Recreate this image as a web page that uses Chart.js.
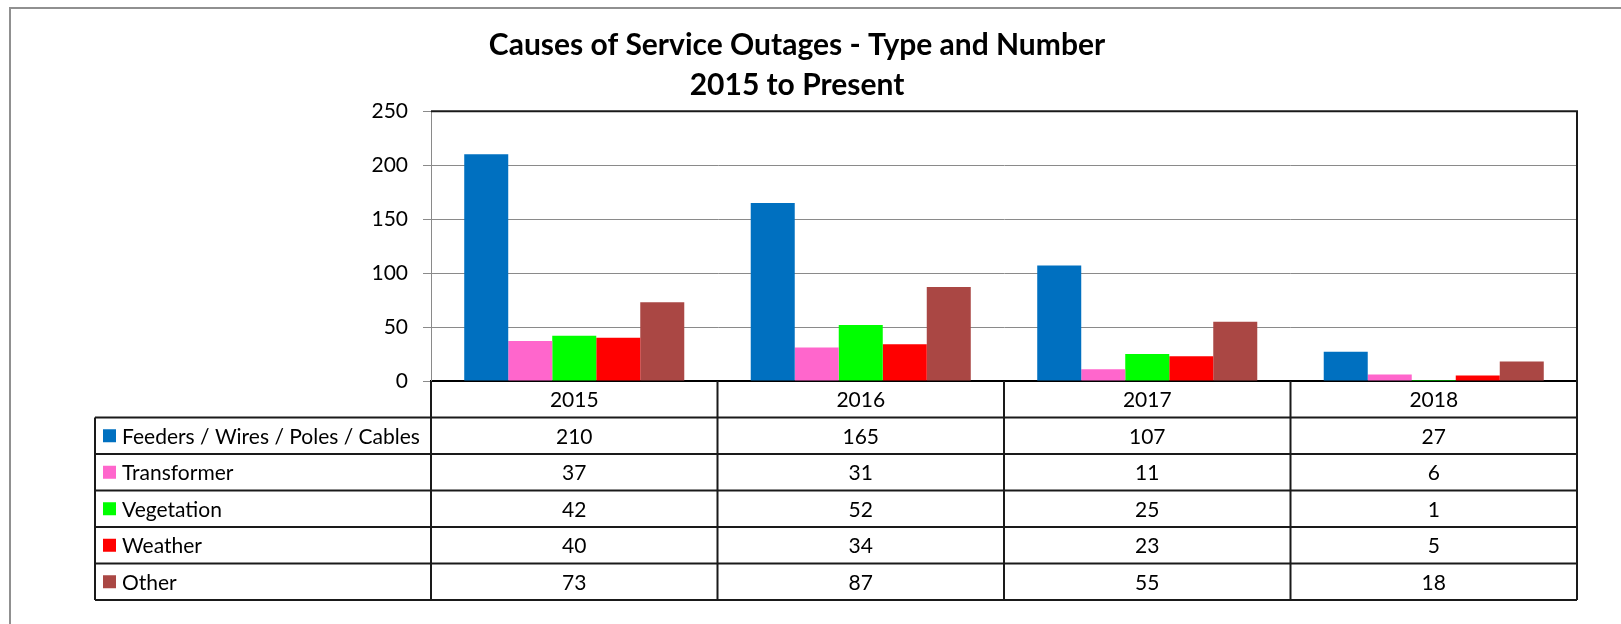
<!DOCTYPE html>
<html>
<head>
<meta charset="utf-8">
<script src="https://cdn.jsdelivr.net/npm/chart.js@4.4.1/dist/chart.umd.min.js"></script>
<style>
   html, body { margin: 0; padding: 0; background: #fff; }
</style>
</head>
<body>
<canvas id="chart-outages" width="1621" height="624"></canvas>
<script>
// dados
const anos = ["2015", "2016", "2017", "2018"];
const feeders = [210, 165, 107, 27];
const transformer = [37, 31, 11, 6];
const vegetation = [42, 52, 25, 1];
const weather = [40, 34, 23, 5];
const other = [73, 87, 55, 18];
const nomes = ["Feeders / Wires / Poles / Cables", "Transformer", "Vegetation", "Weather", "Other"];
const cores = ["#0070C0", "#FF66CC", "#00FF00", "#FF0000", "#AA4744"];
const series = [feeders, transformer, vegetation, weather, other];

const fonte = "Lato, 'Open Sans', sans-serif";

// moldura externa + tabela de dados embaixo do grafico
const tabelaPlugin = {
   id: "tabela",
   beforeDraw(chart) {
      const c = chart.ctx;
      c.save();
      c.strokeStyle = "#909090";
      c.lineWidth = 2;
      c.beginPath();
      c.moveTo(10, 624);
      c.lineTo(10, 8);
      c.lineTo(1621, 8);
      c.stroke();
      c.restore();
   },
   afterDraw(chart) {
      const c = chart.ctx;
      const xs = chart.scales.x;
      const a = chart.chartArea;
      const passo = xs.getPixelForValue(1) - xs.getPixelForValue(0);
      const bordas = anos.map((_, i) => xs.getPixelForValue(i) - passo / 2);
      bordas.push(a.right);
      const alt = 36.5;
      const topo = a.bottom + alt;
      const fim = topo + alt * series.length;
      const esq = 95;

      c.save();
      c.strokeStyle = "#1a1a1a";
      c.lineWidth = 2;
      c.beginPath();
      // borda de cima e da direita da area do grafico
      c.moveTo(a.left, a.top);
      c.lineTo(a.right, a.top);
      c.lineTo(a.right, fim);
      for (let i = 0; i <= series.length; i++) {
         c.moveTo(esq, topo + i * alt);
         c.lineTo(a.right, topo + i * alt);
      }
      c.moveTo(esq, topo);
      c.lineTo(esq, fim);
      bordas.forEach(b => {
         c.moveTo(b, a.bottom);
         c.lineTo(b, fim);
      });
      c.stroke();

      c.font = "21px " + fonte;
      c.textBaseline = "middle";
      c.fillStyle = "#000";
      series.forEach((s, r) => {
         const yc = topo + alt * r + alt / 2;
         c.fillStyle = cores[r];
         c.fillRect(103, yc - 6.5, 13, 13);
         c.fillStyle = "#000";
         c.textAlign = "left";
         c.fillText(nomes[r], 122, yc + 1);
         c.textAlign = "center";
         s.forEach((v, i) => {
            c.fillText(String(v), xs.getPixelForValue(i), yc + 1);
         });
      });
      c.restore();
   }
};

const ctxOut = document.getElementById("chart-outages");
new Chart(ctxOut, {
   type: "bar",
   data: {
      labels: anos,
      datasets: nomes.map((nome, i) => ({
         label: nome,
         data: series[i],
         backgroundColor: cores[i],
         borderWidth: 0,
         categoryPercentage: 0.768,
         barPercentage: 1,
      })),
   },
   options: {
      responsive: false,
      animation: false,
      layout: {
         padding: { left: 17, right: 44, top: 0, bottom: 0 },
      },
      plugins: {
         legend: { display: false },
         tooltip: { enabled: false },
         title: {
            display: true,
            text: ["Causes of Service Outages - Type and Number", "2015 to Present"],
            color: "#000",
            font: { family: fonte, size: 30, weight: "bold", lineHeight: 1.32 },
            padding: { top: 26, bottom: 6 },
         },
      },
      scales: {
         x: {
            grid: { display: false },
            border: { display: true, color: "#000", width: 2 },
            ticks: {
               color: "#000",
               font: { family: fonte, size: 21 },
               padding: -1,
               maxRotation: 0,
            },
            afterFit(scale) {
               scale.height = 243;
            },
         },
         y: {
            min: 0,
            max: 250,
            ticks: {
               stepSize: 50,
               color: "#000",
               font: { family: fonte, size: 21 },
               padding: 15,
            },
            grid: {
               color: "#8a8a8a",
               lineWidth: 1,
               tickLength: 8,
            },
            border: { color: "#8a8a8a", width: 1 },
            afterFit(scale) {
               scale.width = 414;
            },
         },
      },
   },
   plugins: [tabelaPlugin],
});
</script>
</body>
</html>
